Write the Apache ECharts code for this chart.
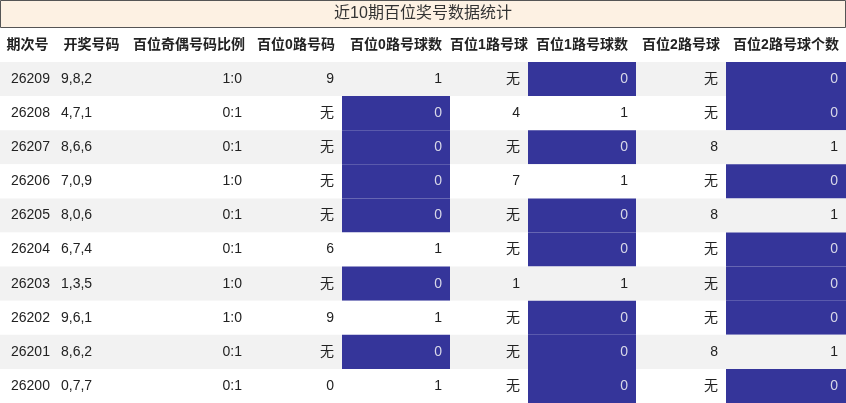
<!DOCTYPE html>
<html><head><meta charset="utf-8">
<script src="https://cdn.jsdelivr.net/npm/echarts@6/dist/echarts.min.js"></script>
<style>html,body{margin:0;padding:0}#chart-container{width:846px;height:403px}</style>
</head><body><div id="chart-container"></div>
<script>
// 表头与数据
var headers = ["期次号","开奖号码","百位奇偶号码比例","百位0路号码","百位0路号球数","百位1路号球","百位1路号球数","百位2路号球","百位2路号球个数"];
var periods = ["26209","26208","26207","26206","26205","26204","26203","26202","26201","26200"];
var draws = ["9,8,2","4,7,1","8,6,6","7,0,9","8,0,6","6,7,4","1,3,5","9,6,1","8,6,2","0,7,7"];
var oddEven = ["1:0","0:1","0:1","1:0","0:1","0:1","1:0","1:0","0:1","0:1"];
var road0 = ["9","无","无","无","无","6","无","9","无","0"];
var road0Count = [1,0,0,0,0,1,0,1,0,1];
var road1 = ["无","4","无","7","无","无","1","无","无","无"];
var road1Count = [0,1,0,1,0,0,1,0,0,0];
var road2 = ["无","无","8","无","8","无","无","无","8","无"];
var road2Count = [0,0,1,0,1,0,0,0,1,0];

var edges = [0,55,128,250,342,450,528,636,726,846];
var titleH = 28, headH = 34, rowH = 34.1;

var cells = [];
headers.forEach(function (h, c) { cells.push([c, -1, h]); });
periods.forEach(function (p, r) {
    var row = [p, draws[r], oddEven[r], road0[r], road0Count[r], road1[r], road1Count[r], road2[r], road2Count[r]];
    row.forEach(function (v, c) { cells.push([c, r, String(v)]); });
});
var countCols = {4: true, 6: true, 8: true};

function renderItem(params, api) {
    var c = api.value(0), r = api.value(1), txt = cells[params.dataIndex][2];
    var x0 = edges[c], x1 = edges[c + 1];
    var y0 = r < 0 ? titleH : titleH + headH + r * rowH;
    var h = r < 0 ? headH : rowH;
    var p0 = api.coord([x0, y0]), p1 = api.coord([x1, y0 + h]);
    var fill = (r >= 0 && r % 2 === 0) ? '#f2f2f2' : '#ffffff';
    var color = '#222';
    if (r >= 0 && countCols[c] && txt === '0') { fill = '#35359a'; color = '#d8d8e8'; }
    var align = 'right', tx = p1[0] - 8;
    if (c === 0) { align = 'left'; tx = p0[0] + 11; }
    if (c === 1) { align = 'left'; tx = p0[0] + 6; }
    if (r < 0) { align = 'center'; tx = (p0[0] + p1[0]) / 2; }
    return {
        type: 'group',
        children: [
            {type: 'rect', shape: {x: p0[0], y: p0[1], width: p1[0] - p0[0], height: p1[1] - p0[1]}, style: {fill: fill}},
            {type: 'text', style: {text: txt, x: tx, y: (p0[1] + p1[1]) / 2, align: align, verticalAlign: 'middle',
                fill: color, font: (r < 0 ? 'bold 14px' : '14px') + ' "Liberation Sans","Noto Sans CJK SC",sans-serif'}}
        ]
    };
}

var chart = echarts.init(document.getElementById('chart-container'));
chart.setOption({
    animation: false,
    graphic: [
        {type: 'rect', shape: {x: 0.5, y: 0.5, width: 845, height: 27}, style: {fill: '#fdf1e3', stroke: '#555', lineWidth: 1}},
        {type: 'text', style: {text: '近10期百位奖号数据统计', x: 423, y: 14, align: 'center', verticalAlign: 'middle',
            fill: '#333', font: '16px "Liberation Sans","Noto Sans CJK SC",sans-serif'}}
    ],
    grid: {left: 0, right: 0, top: 0, bottom: 0},
    xAxis: {type: 'value', min: 0, max: 846, show: false},
    yAxis: {type: 'value', min: 0, max: 403, inverse: true, show: false},
    series: [{
        type: 'custom',
        renderItem: renderItem,
        data: cells.map(function (d) { return [d[0], d[1]]; })
    }]
});
</script></body></html>
